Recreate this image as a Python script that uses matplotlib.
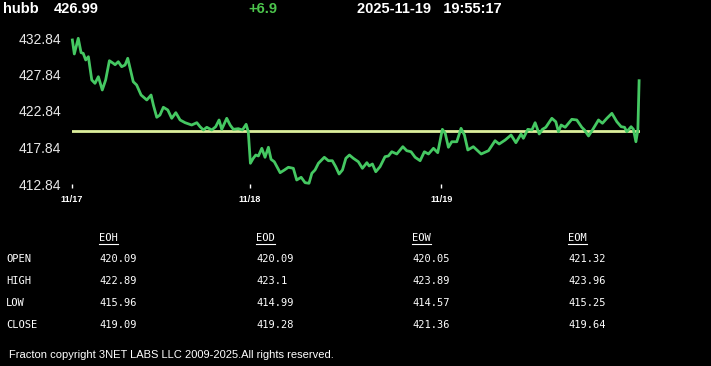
import matplotlib
matplotlib.use("Agg")
import matplotlib.pyplot as plt
from matplotlib.lines import Line2D

# header info
symbol = "hubb"
last_price = "426.99"
change = "+6.9"
stamp = "2025-11-19   19:55:17"

# price series (x in trading days since 11/17 open)
days = [0.002, 0.013, 0.035, 0.051, 0.063, 0.077, 0.092, 0.111, 0.129, 0.148,
        0.170, 0.189, 0.210, 0.232, 0.242, 0.260, 0.279, 0.298, 0.313, 0.331,
        0.344, 0.363, 0.388, 0.420, 0.444, 0.457, 0.476, 0.494, 0.513, 0.538,
        0.560, 0.583, 0.607, 0.635, 0.672, 0.701, 0.719, 0.738, 0.757, 0.785,
        0.807, 0.826, 0.841, 0.869, 0.888, 0.906, 0.934, 0.957, 0.978, 0.990,
        1.002, 1.018, 1.032, 1.047, 1.066, 1.084, 1.103, 1.118, 1.136, 1.169,
        1.193, 1.215, 1.243, 1.262, 1.287, 1.309, 1.331, 1.347, 1.365, 1.384,
        1.417, 1.440, 1.462, 1.481, 1.500, 1.519, 1.538, 1.558, 1.580, 1.608,
        1.631, 1.656, 1.669, 1.687, 1.706, 1.730, 1.758, 1.777, 1.796, 1.824,
        1.858, 1.880, 1.904, 1.927, 1.955, 1.979, 2.002, 2.030, 2.054, 2.080,
        2.096, 2.114, 2.133, 2.161, 2.185, 2.204, 2.223, 2.254, 2.298, 2.339,
        2.376, 2.399, 2.433, 2.466, 2.493, 2.522, 2.535, 2.560, 2.583, 2.601,
        2.624, 2.642, 2.661, 2.695, 2.717, 2.732, 2.747, 2.770, 2.807, 2.835,
        2.863, 2.878, 2.901, 2.923, 2.957, 2.979, 3.004, 3.032, 3.060, 3.084,
        3.103, 3.116, 3.140, 3.153, 3.167, 3.178, 3.185]
prices = [432.57, 430.65, 432.80, 430.83, 430.74, 429.83, 430.28, 427.09, 426.63, 427.54,
          425.72, 427.09, 429.73, 429.37, 429.18, 429.59, 428.91, 429.14, 430.06, 428.22,
          426.85, 426.40, 425.03, 424.35, 425.03, 423.66, 421.98, 422.29, 423.35, 422.98,
          421.84, 422.61, 421.61, 421.24, 420.92, 421.24, 420.69, 420.24, 420.61, 420.24,
          420.69, 421.61, 420.33, 421.84, 420.92, 420.33, 420.42, 420.24, 421.02, 420.00,
          415.68, 416.36, 416.81, 416.68, 417.73, 416.50, 417.87, 416.22, 415.89, 414.39,
          414.76, 415.13, 414.99, 413.39, 413.76, 413.02, 412.94, 414.31, 414.76, 415.68,
          416.50, 416.03, 416.03, 415.21, 414.21, 414.76, 416.36, 416.81, 416.36, 415.89,
          414.99, 415.76, 415.31, 415.58, 414.52, 415.21, 416.58, 416.68, 417.26, 416.95,
          417.95, 417.40, 417.26, 416.50, 416.03, 417.26, 416.95, 417.73, 417.13, 420.33,
          419.79, 417.87, 418.63, 418.63, 420.47, 419.55, 417.50, 417.95, 416.95, 417.40,
          418.77, 418.32, 418.87, 419.55, 418.50, 419.69, 419.10, 420.33, 420.24, 421.24,
          419.69, 420.33, 420.61, 421.84, 421.37, 420.00, 420.92, 420.61, 421.70, 421.61,
          420.61, 420.24, 419.42, 420.24, 421.61, 421.16, 421.84, 422.52, 421.37, 420.69,
          420.61, 420.00, 420.69, 420.33, 418.63, 420.24, 426.99]
ref_level = 420.09

day_ticks = [0.0, 1.0, 2.073]
day_labels = ["11/17", "11/18", "11/19"]
price_ticks = [412.84, 417.84, 422.84, 427.84, 432.84]

# OHLC summary table
row_names = ["OPEN", "HIGH", "LOW", "CLOSE"]
col_names = ["EOH", "EOD", "EOW", "EOM"]
eoh = ["420.09", "422.89", "415.96", "419.09"]
eod = ["420.09", "423.1", "414.99", "419.28"]
eow = ["420.05", "423.89", "414.57", "421.36"]
eom = ["421.32", "423.96", "415.25", "419.64"]

footer = "Fracton copyright 3NET LABS LLC 2009-2025.All rights reserved."

W, H = 711, 366
fig = plt.figure(figsize=(W / 100, H / 100), dpi=100, facecolor="black")

def fx(px):
    return px / W

def fy(py):
    return 1 - py / H

head_font = ["Liberation Sans", "DejaVu Sans"]
fig.text(fx(3), fy(9), symbol, color="white", fontsize=10.5, fontweight="bold",
         family=head_font, va="center")
fig.text(fx(54), fy(9), last_price, color="white", fontsize=10.5, fontweight="bold",
         family=head_font, va="center")
fig.text(fx(248), fy(9), change, color="#4cc44c", fontsize=10.5, fontweight="bold",
         family=head_font, va="center")
fig.text(fx(357), fy(9), stamp, color="white", fontsize=10.5, fontweight="bold",
         family=head_font, va="center")

# chart
ax = fig.add_axes([fx(72), fy(184), (640 - 72) / W, (184 - 38) / H])
ax.set_facecolor("black")
ax.plot(days, prices, color="#45c862", lw=2, solid_joinstyle="round",
        clip_on=False, zorder=3)
ax.axhline(ref_level, color="#dcef9c", lw=2, zorder=2)
ax.set_xlim(0, 3.19)
ax.set_ylim(412.84, 432.84)
for s in ax.spines.values():
    s.set_visible(False)
ax.set_xticks(day_ticks)
ax.set_xticklabels(day_labels)
ax.set_yticks(price_ticks)
ax.set_yticklabels(["%.2f" % v for v in price_ticks])
ax.tick_params(axis="x", length=3, width=1, color="white", pad=5,
               labelsize=6.5, labelcolor="white")
ax.tick_params(axis="y", length=0, pad=8, labelsize=10, labelcolor="#e8e8e8")
for lab in ax.get_xticklabels():
    lab.set_fontweight("bold")
    lab.set_family(["Liberation Sans", "DejaVu Sans"])
for lab in ax.get_yticklabels():
    lab.set_family(["Liberation Sans", "DejaVu Sans"])

# table
mono = ["DejaVu Sans Mono"]
tsize = 7.5
col_x = [99, 256, 412, 568]
row_y = [259, 281, 303, 325]
cols = [eoh, eod, eow, eom]
heads = []
for cx, name in zip(col_x, col_names):
    heads.append(fig.text(fx(cx), fy(238), name, color="white", fontsize=tsize,
                          family=mono, va="center"))
for ry, name in zip(row_y, row_names):
    fig.text(fx(6), fy(ry), name, color="white", fontsize=tsize, family=mono,
             va="center")
for cx, vals in zip(col_x, cols):
    for ry, v in zip(row_y, vals):
        fig.text(fx(cx), fy(ry), v, color="white", fontsize=tsize, family=mono,
                 va="center")

# underline the column headers
fig.canvas.draw()
r = fig.canvas.get_renderer()
for t in heads:
    bb = t.get_window_extent(r)
    fig.add_artist(Line2D([bb.x0 / W, bb.x1 / W], [(bb.y0 - 1) / H] * 2,
                          color="white", lw=0.8))

fig.text(fx(9), fy(355), footer, color="white", fontsize=8,
         family=["Liberation Sans", "DejaVu Sans"], va="center")

fig.savefig("out.png", dpi=100, facecolor="black")
